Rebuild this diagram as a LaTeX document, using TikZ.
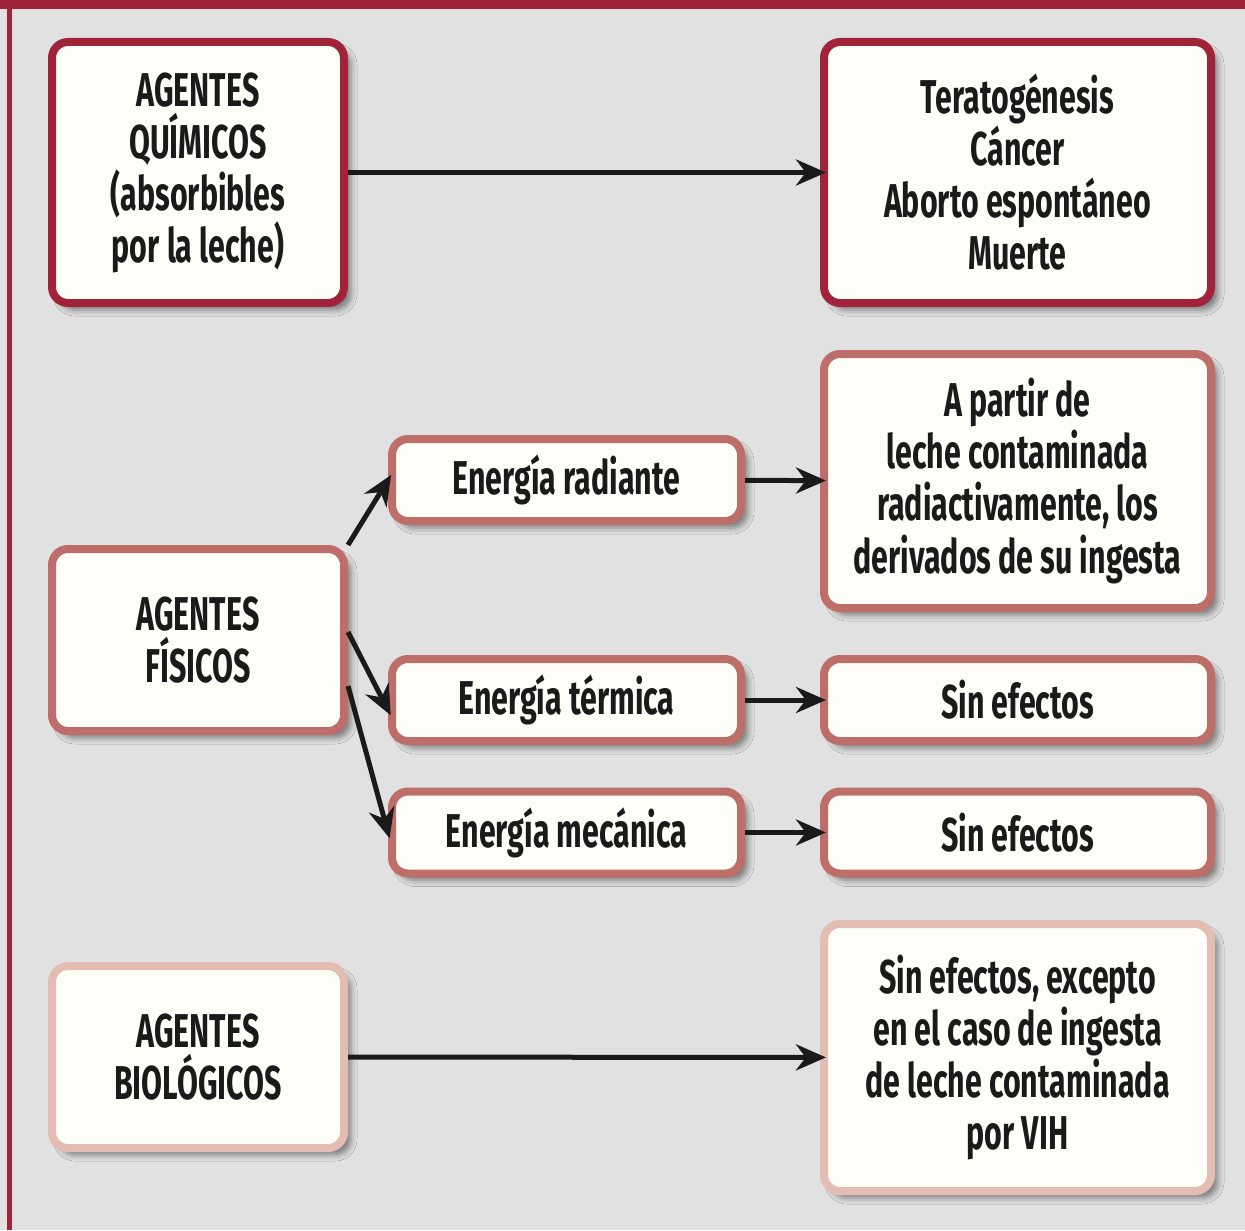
\documentclass[tikz,border=0pt]{standalone}
\usepackage{fontspec}
\setmainfont{Fira Sans}[FakeStretch=0.64]
\usepackage{tikz}
\usetikzlibrary{arrows.meta,positioning,shadows.blur}
\definecolor{rojo}{HTML}{A0233A}
\definecolor{rosa}{HTML}{BE6E68}
\definecolor{palido}{HTML}{E3BDB2}
\definecolor{fondo}{HTML}{E0E1E0}
\definecolor{papel}{HTML}{FEFEF8}
\definecolor{tinta}{HTML}{1A1A1A}
\tikzset{
  caja/.style={draw=#1,fill=papel,line width=0.8mm,rounded corners=1.6mm,align=center,
    text=tinta,font=\fontsize{13.5}{14.8}\selectfont\bfseries,inner sep=0pt,
    blur shadow={shadow xshift=0.7mm,shadow yshift=-0.7mm,shadow blur radius=0.6mm,shadow opacity=45}},
  agente/.style={caja=#1,minimum width=2.92cm,minimum height=1.82cm},
  energia/.style={caja=#1,minimum width=3.49cm,minimum height=0.82cm},
  efecto/.style={caja=#1,minimum width=3.87cm,minimum height=0.82cm}
}
\begin{document}
\begin{tikzpicture}[->,>={Stealth[length=3mm,width=2.6mm]},shorten >=-0.6mm,line width=0.5mm,draw=tinta]
\fill[fondo] (0,0) rectangle (12.45,-12.30);
\fill[rojo] (0,0) rectangle (12.45,-0.09);
\fill[rojo] (0.07,0) rectangle (0.12,-12.30);
\useasboundingbox (0,0) rectangle (12.45,-12.30);
\node[agente=rojo,minimum height=2.61cm] (quim) at (1.98,-1.725) {AGENTES\\QUÍMICOS\\(absorbibles\\por la leche)};
\node[efecto=rojo,minimum height=2.61cm] (terato) at (10.175,-1.725) {Teratogénesis\\Cáncer\\Aborto espontáneo\\Muerte};
\node[agente=rosa] (fis) at (1.98,-6.40) {AGENTES\\FÍSICOS};
\node[energia=rosa] (rad) at (5.665,-4.80) {Energía radiante};
\node[energia=rosa] (term) at (5.665,-7.00) {Energía térmica};
\node[energia=rosa] (mec) at (5.665,-8.325) {Energía mecánica};
\node[efecto=rosa,minimum height=2.54cm] (partir) at (10.175,-4.81) {A partir de\\leche contaminada\\radiactivamente, los\\derivados de su ingesta};
\node[efecto=rosa] (sin1) [right=0.75cm of term] {Sin efectos};
\node[efecto=rosa] (sin2) [right=0.75cm of mec] {Sin efectos};
\node[agente=palido] (bio) at (1.98,-10.57) {AGENTES\\BIOLÓGICOS};
\node[efecto=palido,minimum height=2.67cm] (excep) at (10.175,-10.575) {Sin efectos, excepto\\en el caso de ingesta\\de leche contaminada\\por VIH};
\draw (quim) -- (terato);
\draw (fis.north east) -- (rad.west);
\draw ([yshift=0.8mm]fis.east) -- ([yshift=-1mm]term.west);
\draw ([yshift=-4.6mm]fis.east) -- (mec.west);
\draw (rad) -- (partir);
\draw (term) -- (sin1);
\draw (mec) -- (sin2);
\draw (bio) -- (excep);
\end{tikzpicture}
\end{document}
